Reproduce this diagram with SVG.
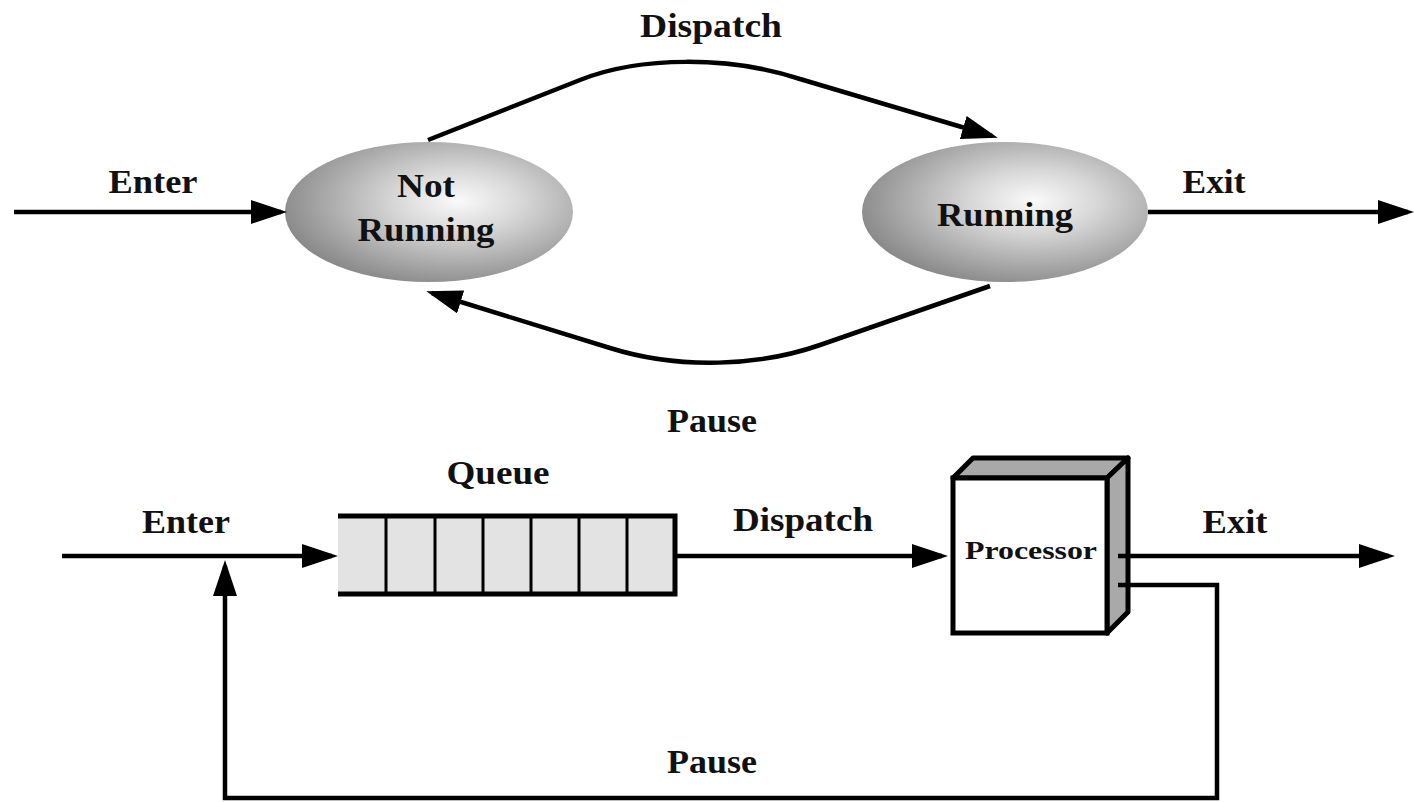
<svg xmlns="http://www.w3.org/2000/svg" width="1414" height="802" viewBox="0 0 1414 802">
<style>
.lbl{font-family:"Liberation Serif","Times New Roman",serif;font-weight:bold;font-size:33px;fill:#111;text-anchor:middle}
.proc{font-family:"Liberation Serif","Times New Roman",serif;font-weight:bold;font-size:26px;fill:#111;text-anchor:middle}
.ln{fill:none;stroke:#000;stroke-width:4.5}
.arr{marker-end:url(#ah)}
.ell{fill:url(#eg)}
</style>
<defs>
<radialGradient id="eg" cx="0.6" cy="0.42" r="0.62" fx="0.6" fy="0.42">
<stop offset="0" stop-color="#fafafa"/>
<stop offset="0.35" stop-color="#d8d8d8"/>
<stop offset="1" stop-color="#8a8a8a"/>
</radialGradient>
<marker id="ah" viewBox="0 0 36 24" refX="30" refY="12" markerWidth="36" markerHeight="24" markerUnits="userSpaceOnUse" orient="auto">
<path d="M0,0 L36,12 L0,24 z" fill="#000"/>
</marker>
</defs>
<rect width="1414" height="802" fill="#fff"/>

<g id="not-running">
<ellipse class="ell" cx="429" cy="212" rx="144" ry="70"/>
<text class="lbl" x="426" y="197" textLength="58" lengthAdjust="spacingAndGlyphs">Not</text>
<text class="lbl" x="426" y="241" textLength="137" lengthAdjust="spacingAndGlyphs">Running</text>
</g>
<g id="running">
<ellipse class="ell" cx="1005" cy="212" rx="143" ry="70"/>
<text class="lbl" x="1005" y="226" textLength="136" lengthAdjust="spacingAndGlyphs">Running</text>
</g>

<g id="queue">
<rect x="338" y="516" width="337" height="78" fill="#e3e3e3"/>
<path d="M338,516 H675 V594 H338" fill="none" stroke="#000" stroke-width="5"/>
<path d="M386,516 V594 M435,516 V594 M483,516 V594 M531,516 V594 M579,516 V594 M627,516 V594" stroke="#000" stroke-width="3"/>
<text class="lbl" x="498" y="484" textLength="103" lengthAdjust="spacingAndGlyphs">Queue</text>
</g>

<g id="processor">
<polygon points="953,478 973,458 1128,458 1107,478" fill="#a9a9a9" stroke="#000" stroke-width="5" stroke-linejoin="round"/>
<polygon points="1107,478 1128,458 1128,612 1107,633" fill="#a9a9a9" stroke="#000" stroke-width="5" stroke-linejoin="round"/>
<rect x="953" y="478" width="154" height="155" fill="#fff" stroke="#000" stroke-width="5"/>
<text class="proc" x="1031" y="559" textLength="132" lengthAdjust="spacingAndGlyphs">Processor</text>
</g>

<g id="connectors">
<path class="ln arr" d="M14,212 L281,212"/>
<path class="ln arr" d="M1148,212 L1408,212"/>
<path class="ln arr" d="M428,140 L580,80 C640,56 730,56 800,79 L992,136"/>
<path class="ln arr" d="M990,286 L820,345 C760,366 680,370 610,348 L432,293"/>
<path class="ln arr" d="M62,556 L332,556"/>
<path class="ln arr" d="M675,556 L942,556"/>
<path class="ln arr" d="M1118,556 L1389,556"/>
<path class="ln arr" d="M1118,585 H1217 V798 H225 V566"/>
</g>

<g id="labels">
<text class="lbl" x="711" y="37" textLength="142" lengthAdjust="spacingAndGlyphs">Dispatch</text>
<text class="lbl" x="153" y="193" textLength="89" lengthAdjust="spacingAndGlyphs">Enter</text>
<text class="lbl" x="1214" y="193" textLength="63" lengthAdjust="spacingAndGlyphs">Exit</text>
<text class="lbl" x="712" y="432" textLength="90" lengthAdjust="spacingAndGlyphs">Pause</text>
<text class="lbl" x="186" y="533" textLength="88" lengthAdjust="spacingAndGlyphs">Enter</text>
<text class="lbl" x="803" y="531" textLength="140" lengthAdjust="spacingAndGlyphs">Dispatch</text>
<text class="lbl" x="1235" y="533" textLength="65" lengthAdjust="spacingAndGlyphs">Exit</text>
<text class="lbl" x="712" y="773" textLength="90" lengthAdjust="spacingAndGlyphs">Pause</text>
</g>
</svg>
